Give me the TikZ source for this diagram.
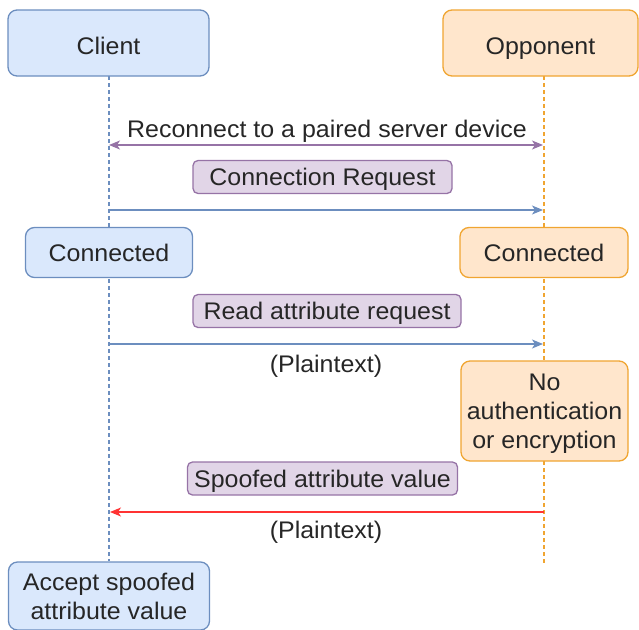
\documentclass[tikz,border=0pt]{standalone}
\usepackage{fontspec}
\setmainfont{Liberation Sans}[FakeStretch=1.04]
\usetikzlibrary{arrows.meta}

\definecolor{cliFill}{HTML}{DAE8FC}
\definecolor{cliLine}{HTML}{6C8EBF}
\definecolor{oppFill}{HTML}{FFE6CC}
\definecolor{oppLine}{HTML}{F0A531}
\definecolor{msgFill}{HTML}{E1D5E7}
\definecolor{msgLine}{HTML}{9673A6}
\definecolor{attack}{HTML}{FF3333}
\definecolor{txt}{HTML}{262626}

\tikzset{
  >={Stealth[length=11pt, width=9pt, inset=3pt]},
  % caps of each line sit centred on the node's anchor
  lbl/.style={font=\fontsize{24}{29}\selectfont, text=txt, inner sep=0pt, align=center,
              text height=17pt, text depth=0pt},
  twolines/.style={text height=46pt},
  threelines/.style={text height=75pt},
  actor/.style={lbl, draw, line width=1.3pt, rounded corners=9pt},
  cliBox/.style={actor, draw=cliLine, fill=cliFill},
  oppBox/.style={actor, draw=oppLine, fill=oppFill},
  head/.style={text height=22pt},
  msgBox/.style={lbl, draw=msgLine, fill=msgFill, line width=1.3pt, rounded corners=5pt,
                 minimum height=33pt},
  life/.style={dashed, dash pattern=on 4pt off 3pt, line width=1.2pt},
  msg/.style={line width=1.4pt, ->},
}

\begin{document}
\begin{tikzpicture}[x=1pt, y=-1pt]
\useasboundingbox (0,0) rectangle (639,629);

% lifeline end points and message anchors
\coordinate (cTop) at (109,76);
\coordinate (oTop) at (544,76);
\coordinate (oEnd) at (544,563);
\coordinate (c1) at (109,145);  \coordinate (o1) at (543,145);
\coordinate (c2) at (109,210);  \coordinate (o2) at (543,210);
\coordinate (c3) at (109,344);  \coordinate (o3) at (543,344);
\coordinate (c4) at (110,512);  \coordinate (o4) at (544,512);

% bottom actor box first so the lifeline can end at it
\node[cliBox, twolines, minimum width=201pt, minimum height=68pt] (accept) at (109,596)
  {Accept spoofed\\attribute value};

% lifelines
\draw[life, draw=cliLine] (cTop) -- (accept.north);
\draw[life, draw=oppLine] (oTop) -- (oEnd);

% participants
\node[cliBox, head, minimum width=201pt, minimum height=66pt] (client) at (108.5,43) {Client};
\node[oppBox, head, minimum width=195pt, minimum height=66pt] (opp) at (540.5,43) {Opponent};

% reconnect exchange
\draw[line width=1.4pt, draw=msgLine, <->] (c1) -- (o1);
\node[lbl] (reconnect) at (327,128.5) {Reconnect to a paired server device};

% connection request
\node[msgBox, minimum width=259pt] (connreq) at (322.5,177) {Connection Request};
\draw[msg, draw=cliLine] (c2) -- (o2);

% connected states
\node[cliBox, minimum width=167pt, minimum height=50pt] (cconn) at (109,252.5) {Connected};
\node[oppBox, minimum width=168pt, minimum height=50pt] (oconn) at (544,252.5) {Connected};

% read request
\node[msgBox, minimum width=268pt] (readreq) at (327,311) {Read attribute request};
\draw[msg, draw=cliLine] (c3) -- (o3);
\node[lbl] (plain1) at (326,363.5) {(Plaintext)};

% opponent weakness
\node[oppBox, threelines, minimum width=167pt, minimum height=100pt] (noauth) at (544.5,411)
  {No\\authentication\\or encryption};

% spoofed response
\node[msgBox, minimum width=270pt] (spoof) at (322.5,478.5) {Spoofed attribute value};
\draw[msg, draw=attack] (o4) -- (c4);
\node[lbl] (plain2) at (326,530) {(Plaintext)};
\end{tikzpicture}
\end{document}
